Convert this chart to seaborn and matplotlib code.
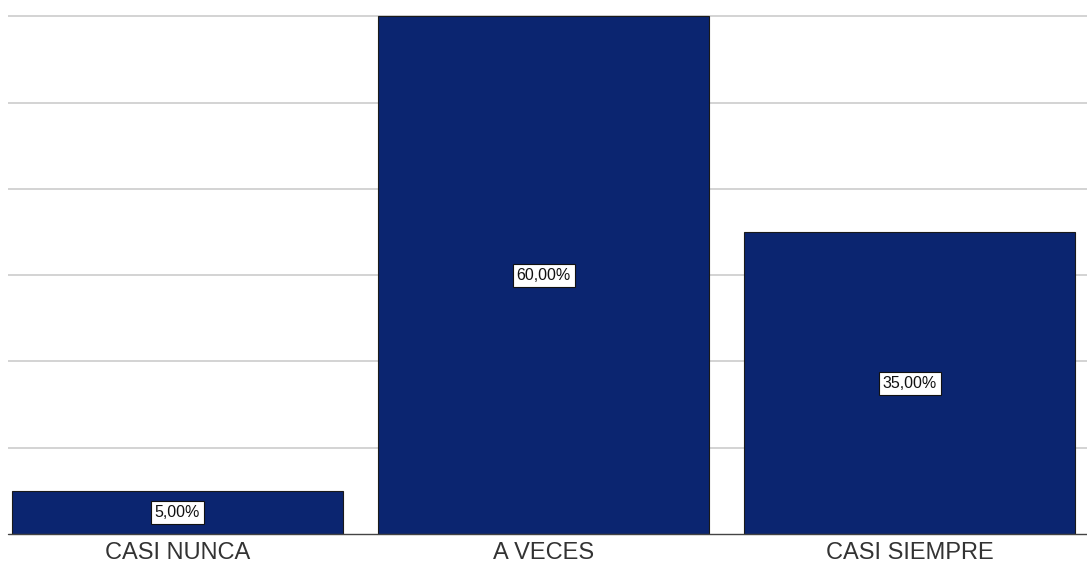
import matplotlib
matplotlib.use("Agg")
import matplotlib.pyplot as plt
import seaborn as sns
import pandas as pd

# Response frequencies (percent)
categories = ["CASI NUNCA", "A VECES", "CASI SIEMPRE"]
percentages = [5.0, 60.0, 35.0]
value_labels = ["5,00%", "60,00%", "35,00%"]

df = pd.DataFrame({"categoria": categories, "porcentaje": percentages})

sns.set_theme(style="white")
plt.rcParams["font.family"] = ["Liberation Sans", "DejaVu Sans"]

fig = plt.figure(figsize=(10.87, 5.65), dpi=100)
ax = fig.add_axes([8 / 1087, 31 / 565, 1 - 8 / 1087, 1 - 31 / 565])

bar_color = "#0b2570"
sns.barplot(data=df, x="categoria", y="porcentaje", color=bar_color,
            saturation=1, width=0.904, edgecolor="#1a1a1a", linewidth=0.8,
            ax=ax, zorder=3)

ax.set_xlim(-0.463, 2.484)
ax.set_ylim(0, 61.9)

# horizontal reference lines every 10 %
for y in range(10, 70, 10):
    ax.axhline(y, color="#cccccc", lw=1.2, zorder=1)
ax.axhline(0, color="#444444", lw=1.0, zorder=4, clip_on=False)

for side in ["top", "right", "left", "bottom"]:
    ax.spines[side].set_visible(False)

ax.set_yticks([])
ax.set_xlabel("")
ax.set_ylabel("")
ax.tick_params(axis="x", length=0, pad=6, labelsize=17, labelcolor="#333333")

for i, (v, lab) in enumerate(zip(percentages, value_labels)):
    ax.text(i, v / 2, lab, ha="center", va="center", fontsize=11.5,
            color="#111111", zorder=5,
            bbox=dict(boxstyle="square,pad=0.25", facecolor="white",
                      edgecolor="#111111", linewidth=0.8))

fig.savefig("out.png", dpi=100)
